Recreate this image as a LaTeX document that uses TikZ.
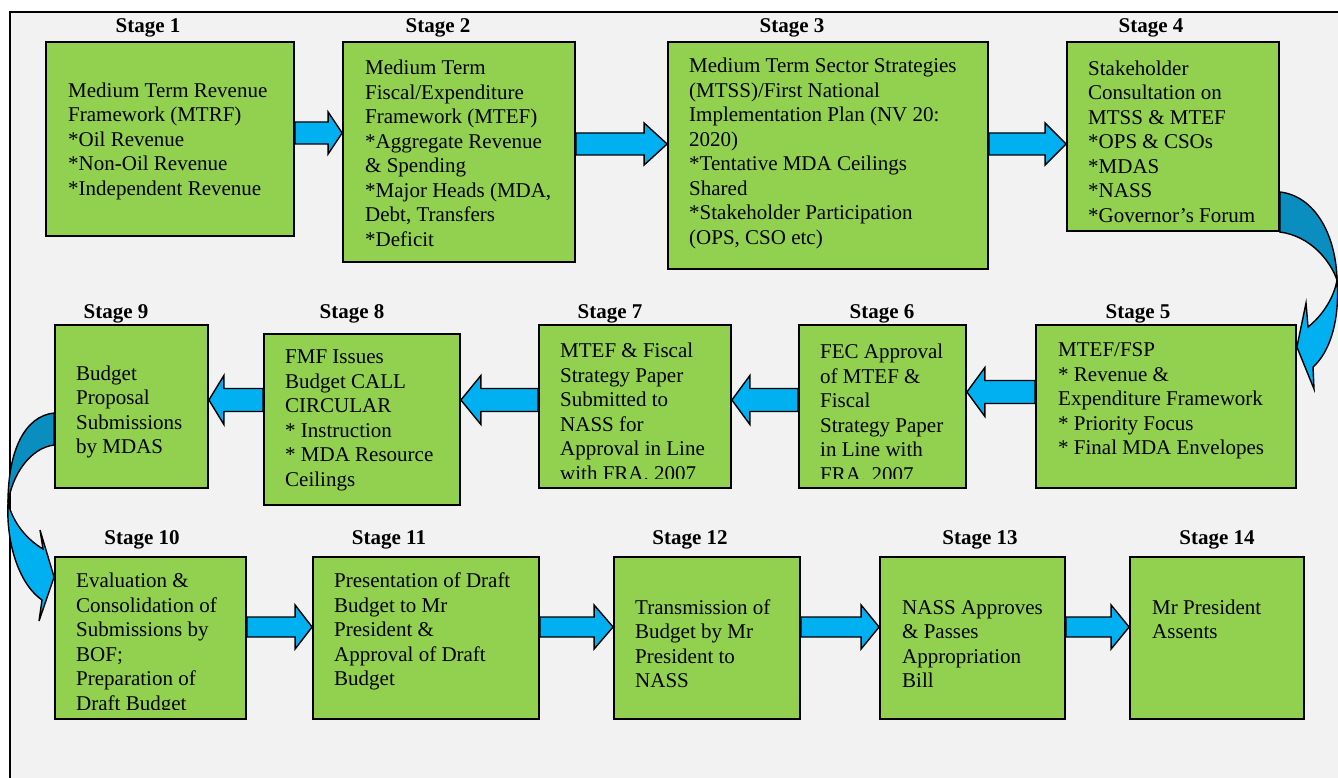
\documentclass[tikz,border=0pt]{standalone}
\usepackage{fontspec}
\setmainfont{Liberation Serif}
\usetikzlibrary{calc}
\definecolor{boxgreen}{HTML}{92D050}
\definecolor{arrblue}{HTML}{00B0F0}
\definecolor{arrdark}{HTML}{0A8EC0}
\definecolor{bggray}{HTML}{F2F2F2}
\newcommand\ashaft{11}
\newcommand\ahead{21}
\newcommand\blockright[4]{%
  \filldraw[barrow] ($(#1.east |- 0,#3)+(0,-\ashaft)$) -- ($(#2.west |- 0,#3)+(-#4,-\ashaft)$)
    -- ($(#2.west |- 0,#3)+(-#4,-\ahead)$) -- (#2.west |- 0,#3) -- ($(#2.west |- 0,#3)+(-#4,\ahead)$)
    -- ($(#2.west |- 0,#3)+(-#4,\ashaft)$) -- ($(#1.east |- 0,#3)+(0,\ashaft)$) -- cycle;}
\newcommand\blockleft[4]{%
  \filldraw[barrow] ($(#1.west |- 0,#3)+(0,-\ashaft)$) -- ($(#2.east |- 0,#3)+(#4,-\ashaft)$)
    -- ($(#2.east |- 0,#3)+(#4,-\ahead)$) -- (#2.east |- 0,#3) -- ($(#2.east |- 0,#3)+(#4,\ahead)$)
    -- ($(#2.east |- 0,#3)+(#4,\ashaft)$) -- ($(#1.west |- 0,#3)+(0,\ashaft)$) -- cycle;}

\begin{document}
\begin{tikzpicture}
    [x=1pt,y=-1pt,
     box/.style 2 args={draw=black,line width=1.8pt,fill=boxgreen,minimum width=#1pt,minimum height=#2pt,inner sep=0pt},
     txt/.style={anchor=west,align=left,inner sep=0pt,font=\fontsize{21}{24.5}\selectfont},
     lbl/.style={inner sep=0pt,font=\bfseries\fontsize{21}{24}\selectfont},
     barrow/.style={draw=black,line width=1.4pt,fill=arrblue,line join=miter},
     cdark/.style={draw=black,line width=1.4pt,fill=arrdark},
     clight/.style={draw=black,line width=1.4pt,fill=arrblue}]
    \clip (0,0) rectangle (1338,778);
    \fill[white] (0,0) rectangle (1338,778);
    \fill[bggray] (10,12) rectangle (1338,778);
    \draw[line width=2pt] (10,778) -- (10,12) -- (1338,12);

    \node[lbl] (l1) at (148,28) {Stage 1};
    \node[lbl] (l2) at (438,28) {Stage 2};
    \node[lbl] (l3) at (792,28) {Stage 3};
    \node[lbl] (l4) at (1151,28) {Stage 4};
    \node[lbl] (l5) at (1138,314) {Stage 5};
    \node[lbl] (l6) at (882,314) {Stage 6};
    \node[lbl] (l7) at (610,314) {Stage 7};
    \node[lbl] (l8) at (352,314) {Stage 8};
    \node[lbl] (l9) at (116,314) {Stage 9};
    \node[lbl] (l10) at (142,540) {Stage 10};
    \node[lbl] (l11) at (389,540) {Stage 11};
    \node[lbl] (l12) at (690,540) {Stage 12};
    \node[lbl] (l13) at (980,540) {Stage 13};
    \node[lbl] (l14) at (1217,540) {Stage 14};

    \node[box={248}{194}] (s1) at (170,139) {};
    \node[box={232}{220}] (s2) at (459,152) {};
    \node[box={320}{227}] (s3) at (828,155.5) {};
    \node[box={212}{189}] (s4) at (1173,136.5) {};
    \node[box={260}{163}] (s5) at (1166,406.5) {};
    \node[box={167}{163}] (s6) at (882.5,406.5) {};
    \node[box={192}{163}] (s7) at (635,406.5) {};
    \node[box={196}{171}] (s8) at (362,419.5) {};
    \node[box={153}{163}] (s9) at (131.5,406.5) {};
    \node[box={191}{162}] (s10) at (150.5,638) {};
    \node[box={226}{162}] (s11) at (426,638) {};
    \node[box={186}{162}] (s12) at (707,638) {};
    \node[box={185}{162}] (s13) at (972.5,638) {};
    \node[box={174}{162}] (s14) at (1217,638) {};

    \node[txt] (t1) at (68,141) {Medium Term Revenue\\Framework (MTRF)\\*Oil Revenue\\*Non-Oil Revenue\\*Independent Revenue};
    \node[txt] (t2) at (365,153.5) {Medium Term\\Fiscal/Expenditure\\Framework (MTEF)\\*Aggregate Revenue\\\& Spending\\*Major Heads (MDA,\\Debt, Transfers\\*Deficit};
    \node[txt] (t3) at (689,153.5) {Medium Term Sector Strategies\\(MTSS)/First National\\Implementation Plan (NV 20:\\2020)\\*Tentative MDA Ceilings\\Shared\\*Stakeholder Participation\\(OPS, CSO etc)};
    \node[txt] (t4) at (1088,141.5) {Stakeholder\\Consultation on\\MTSS \& MTEF\\*OPS \& CSOs\\*MDAS\\*NASS\\*Governor’s Forum};
    \node[txt] (t5) at (1058,401) {MTEF/FSP\\* Revenue \&\\Expenditure Framework\\* Priority Focus\\* Final MDA Envelopes};
    \begin{scope}
        \clip (s6.north west) rectangle ($(s6.south east)+(0,-10)$);
        \node[txt] (t6) at (820,413) {FEC Approval\\of MTEF \&\\Fiscal\\Strategy Paper\\in Line with\\FRA. 2007};
    \end{scope}
    \begin{scope}
        \clip (s7.north west) rectangle ($(s7.south east)+(0,-10)$);
        \node[txt] (t7) at (560,412) {MTEF \& Fiscal\\Strategy Paper\\Submitted to\\NASS for\\Approval in Line\\with FRA. 2007};
    \end{scope}
    \node[txt] (t8) at (285,420.5) {FMF Issues\\Budget CALL\\CIRCULAR\\* Instruction\\* MDA Resource\\Ceilings};
    \node[txt] (t9) at (76,412) {Budget\\Proposal\\Submissions\\by MDAS};
    \begin{scope}
        \clip (s10.north west) rectangle ($(s10.south east)+(0,-10)$);
        \node[txt] (t10) at (76,644) {Evaluation \&\\Consolidation of\\Submissions by\\BOF;\\Preparation of\\Draft Budget};
    \end{scope}
    \node[txt] (t11) at (334,631.5) {Presentation of Draft\\Budget to Mr\\President \&\\Approval of Draft\\Budget};
    \node[txt] (t12) at (635,643.5) {Transmission of\\Budget by Mr\\President to\\NASS};
    \node[txt] (t13) at (902,644) {NASS Approves\\\& Passes\\Appropriation\\Bill};
    \node[txt] (t14) at (1152,619.5) {Mr President\\Assents};

    \blockright{s1}{s2}{133}{14}
    \blockright{s2}{s3}{144}{23}
    \blockright{s3}{s4}{144}{21}
    \renewcommand\ashaft{11.5}\renewcommand\ahead{24.5}
    \blockleft{s5}{s6}{392}{18}
    \blockleft{s6}{s7}{400}{18}
    \blockleft{s7}{s8}{400}{20}
    \blockleft{s8}{s9}{400}{15}
    \renewcommand\ashaft{10}\renewcommand\ahead{22}
    \blockright{s10}{s11}{627}{17}
    \blockright{s11}{s12}{627}{19}
    \blockright{s12}{s13}{627}{18}
    \blockright{s13}{s14}{627}{18}

    \filldraw[cdark] (s4.east |- 0,192) .. controls (1315,196) and (1336,235) .. (1337,280)
        .. controls (1330,260) and (1310,236) .. (s4.east |- 0,232) -- cycle;
    \filldraw[clight] (1337,280) .. controls (1340,320) and (1330,352) .. (1313,367) -- (1314,389)
        -- (s5.east |- 0,347) -- (1306,303) -- (1308,327) .. controls (1322,316) and (1334,298) .. (1337,280) -- cycle;
    \filldraw[cdark] (s9.west |- 0,413) .. controls (25,416) and (8,450) .. (8,503)
        .. controls (12,475) and (30,448) .. (s9.west |- 0,445) -- cycle;
    \filldraw[clight] (8,503) .. controls (6,545) and (20,585) .. (42,600) -- (39,621)
        -- (s10.west |- 0,577) -- (40,530) -- (43,549) .. controls (28,540) and (14,525) .. (8,503) -- cycle;
\end{tikzpicture}
\end{document}
